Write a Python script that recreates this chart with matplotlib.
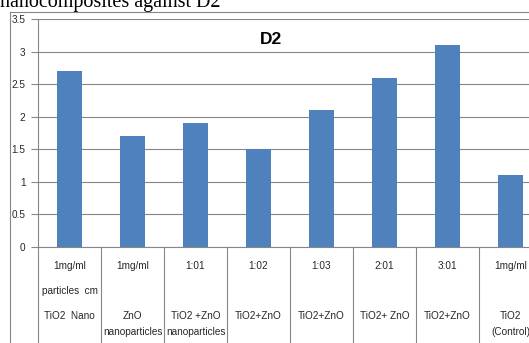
import matplotlib
matplotlib.use("Agg")
import matplotlib.pyplot as plt
from matplotlib.transforms import blended_transform_factory
from matplotlib.lines import Line2D

# ---------- data ----------
values = [2.7, 1.7, 1.9, 1.5, 2.1, 2.6, 3.1, 1.1]
line1 = ["1mg/ml", "1mg/ml", "1:01", "1:02", "1:03", "2:01", "3:01", "1mg/ml"]
line2 = ["particles  cm", "", "", "", "", "", "", ""]
line3 = ["TiO2  Nano", "ZnO", "TiO2 +ZnO", "TiO2+ZnO", "TiO2+ZnO", "TiO2+ ZnO", "TiO2+ZnO", "TiO2"]
line4 = ["", "nanoparticles", "nanoparticles", "", "", "", "", "(Control)"]
yticks = [0, 0.5, 1, 1.5, 2, 2.5, 3, 3.5]

W, H = 529, 343
fig = plt.figure(figsize=(W / 100, H / 100), dpi=100)
sans = ["Liberation Sans Narrow", "Liberation Sans", "DejaVu Sans"]
grey = "#868686"
txt = "#262626"

# plot area in pixel coords: x 38..542 (runs past the right edge), y 19..247
ax = fig.add_axes([38 / W, 1 - 247 / H, (542 - 38) / W, (247 - 19) / H])
x = list(range(len(values)))
ax.bar(x, values, width=0.4, color="#4F81BD", zorder=3)
ax.set_xlim(-0.5, len(values) - 0.5)
ax.set_ylim(0, 3.5)
ax.set_yticks(yticks)
ax.set_yticklabels([f"{t:g}" for t in yticks], fontsize=7.2, family=sans, color=txt)
ax.tick_params(axis="y", length=5, color=grey, width=0.8, pad=4)
ax.set_xticks([])
ax.yaxis.grid(True, color=grey, linewidth=0.8, zorder=0)
for side in ["top", "right"]:
    ax.spines[side].set_visible(False)
for side in ["left", "bottom"]:
    ax.spines[side].set_color(grey)
    ax.spines[side].set_linewidth(0.8)

fig.text(271 / W, 1 - 40 / H, "D2", ha="center", va="center",
         fontsize=12.5, fontweight="bold", family=sans)

# data table under the axis
tr = blended_transform_factory(ax.transData, fig.transFigure)
for i in range(len(values) + 1):
    fig.add_artist(Line2D([i - 0.5, i - 0.5], [0, 1 - 247 / H], transform=tr,
                          color=grey, linewidth=0.8))
for rows, ypix in [(line1, 266), (line2, 291), (line3, 316), (line4, 332)]:
    for i, s in enumerate(rows):
        if s:
            fig.text(i, 1 - ypix / H, s, transform=tr, ha="center", va="center",
                     fontsize=7.2, family=sans, color=txt)

# chart border (cut off at right and bottom)
fig.add_artist(Line2D([10 / W, 10 / W], [0, 1 - 12 / H], transform=fig.transFigure,
                      color=grey, linewidth=0.8))
fig.add_artist(Line2D([10 / W, 1], [1 - 12 / H, 1 - 12 / H], transform=fig.transFigure,
                      color=grey, linewidth=0.8))

# document caption, cut off by the top edge
fig.text(0, 1 - 7.5 / H, "nanocomposites against D2", ha="left", va="baseline",
         fontsize=14.5, family="Liberation Serif", color="black")

fig.savefig("out.png", dpi=100)
